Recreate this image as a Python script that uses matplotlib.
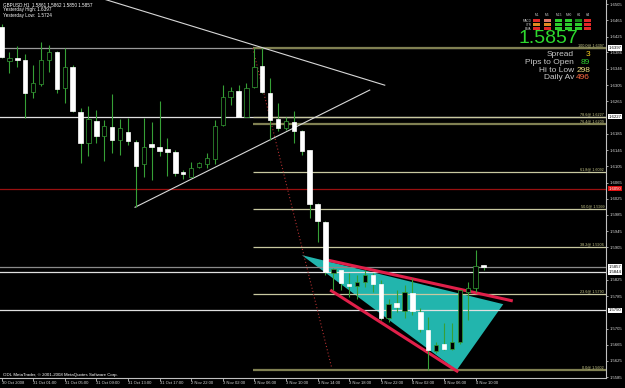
import matplotlib
matplotlib.use("Agg")
import matplotlib.pyplot as plt
from matplotlib.patches import Polygon, Rectangle

W, H = 625, 388

# GBPUSD H1 candles, 30 Oct 21:00 .. 4 Nov 11:00
opens = [1.6448, 1.6365, 1.6371, 1.6367, 1.6287, 1.6307, 1.6367, 1.6386, 1.6297, 1.6349,
         1.6238, 1.6162, 1.6217, 1.6180, 1.6201, 1.6171, 1.6190, 1.6166, 1.6111, 1.6159,
         1.6153, 1.6148, 1.6141, 1.6092, 1.6079, 1.6104, 1.6110, 1.6122, 1.6207, 1.6277,
         1.6291, 1.6227, 1.6301, 1.6352, 1.6286, 1.6222, 1.6199, 1.6215, 1.6192, 1.6145,
         1.6011, 1.5968, 1.5843, 1.5849, 1.5816, 1.5810, 1.5819, 1.5838, 1.5815, 1.5730,
         1.5767, 1.5749, 1.5793, 1.5746, 1.5701, 1.5649, 1.5668, 1.5654, 1.5671, 1.5796,
         1.5804, 1.5861]
highs = [1.6456, 1.6386, 1.6402, 1.6383, 1.6355, 1.6412, 1.6404, 1.6390, 1.6396, 1.6355,
         1.6248, 1.6254, 1.6245, 1.6219, 1.6283, 1.6221, 1.6223, 1.6171, 1.6225, 1.6215,
         1.6266, 1.6174, 1.6145, 1.6096, 1.6116, 1.6116, 1.6137, 1.6219, 1.6305, 1.6301,
         1.6305, 1.6310, 1.6396, 1.6397, 1.6322, 1.6260, 1.6227, 1.6241, 1.6194, 1.6145,
         1.6014, 1.5970, 1.5853, 1.5849, 1.5841, 1.5837, 1.5849, 1.5841, 1.5824, 1.5779,
         1.5800, 1.5812, 1.5829, 1.5755, 1.5734, 1.5672, 1.5718, 1.5718, 1.5801, 1.5820,
         1.5898, 1.5862]
lows = [1.6372, 1.6334, 1.6350, 1.6223, 1.6273, 1.6304, 1.6338, 1.6285, 1.6262, 1.6240,
        1.6113, 1.6130, 1.6162, 1.6118, 1.6137, 1.6134, 1.6157, 1.6004, 1.6079, 1.6071,
        1.6130, 1.6082, 1.6081, 1.6073, 1.6079, 1.6102, 1.6100, 1.6110, 1.6204, 1.6256,
        1.6226, 1.6226, 1.6297, 1.6286, 1.6170, 1.6192, 1.6194, 1.6163, 1.6133, 1.5977,
        1.5919, 1.5837, 1.5800, 1.5800, 1.5783, 1.5779, 1.5808, 1.5796, 1.5726, 1.5721,
        1.5746, 1.5732, 1.5738, 1.5697, 1.5602, 1.5644, 1.5652, 1.5652, 1.5668, 1.5726,
        1.5796, 1.5850]
closes = [1.6374, 1.6371, 1.6366, 1.6286, 1.6310, 1.6367, 1.6387, 1.6296, 1.6349, 1.6241,
          1.6163, 1.6222, 1.6180, 1.6204, 1.6171, 1.6199, 1.6168, 1.6106, 1.6152, 1.6153,
          1.6143, 1.6141, 1.6089, 1.6085, 1.6102, 1.6112, 1.6125, 1.6205, 1.6277, 1.6291,
          1.6227, 1.6299, 1.6349, 1.6289, 1.6219, 1.6199, 1.6217, 1.6193, 1.6143, 1.6012,
          1.5970, 1.5845, 1.5851, 1.5818, 1.5810, 1.5820, 1.5838, 1.5814, 1.5730, 1.5765,
          1.5757, 1.5796, 1.5749, 1.5705, 1.5652, 1.5664, 1.5654, 1.5671, 1.5800, 1.5805,
          1.5860, 1.5857]

time_ticks = [0, 4, 8, 12, 16, 20, 24, 28, 32, 36, 40, 44, 48, 52, 56, 60]
time_labels = ["30 Oct 2008", "31 Oct 01:00", "31 Oct 05:00", "31 Oct 09:00",
               "31 Oct 13:00", "31 Oct 17:00", "2 Nov 22:00", "3 Nov 02:00",
               "3 Nov 06:00", "3 Nov 10:00", "3 Nov 14:00", "3 Nov 18:00",
               "3 Nov 22:00", "4 Nov 02:00", "4 Nov 06:00", "4 Nov 10:00"]
price_ticks = [1.6505, 1.6465, 1.6425, 1.6386, 1.6346, 1.6305, 1.6265, 1.6185, 1.6145,
               1.6105, 1.6065, 1.6025, 1.5985, 1.5945, 1.5905, 1.5825, 1.5785, 1.5705,
               1.5665, 1.5625, 1.5585]

# horizontal lines: price, colour, boxed label colours
hlines = [1.6397, 1.6227, 1.6050, 1.5857, 1.5844, 1.5750]
hline_colors = ["#9a9a9a", "#e0e0e0", "#9a1010", "#8a8a8a", "#e0e0e0", "#e0e0e0"]
box_faces = ["white", "white", "#e01010", "white", "white", "white"]
box_texts = ["black", "black", "white", "black", "black", "black"]

fib_levels = ["0.0", "23.6", "38.2", "50.0", "61.8", "76.4", "78.6", "100.0"]
fib_prices = [1.5602, 1.5790, 1.5906, 1.5999, 1.6092, 1.6209, 1.6227, 1.6397]
fib_dark = [True, False, False, False, False, True, False, True]
fib_start = 31.8
fib_base_x = [31.8, 41.8]
fib_base_y = [1.6396, 1.5607]

resist_x, resist_y = [13.0, 48.5], [1.6517, 1.6305]
support_x, support_y = [16.9, 46.6], [1.6004, 1.6293]
tri_x = [38.0, 57.6, 63.5]
tri_y = [1.5886, 1.5602, 1.5765]
upper_x, upper_y = [41.2, 64.7], [1.5874, 1.5773]
lower_x, lower_y = [41.6, 57.8], [1.5800, 1.5598]

sig_cols = ["M1", "M5", "M15", "M30", "H1", "H4"]
sig_rows = ["MACD", "STR", "EMA"]
sig_colors = [["#e02828", "#e07868", "#2ccc2c", "#2ccc2c", "#168a16", "#e02828"],
              ["#e08a20", "#e08a20", "#2ccc2c", "#2ccc2c", "#2ccc2c", "#e02828"],
              ["#e02828", "#e02828", "#2ccc2c", "#2ccc2c", "#2ccc2c", "#e02828"]]
info_names = ["Spread", "Pips to Open", "Hi to Low", "Daily Av"]
info_values = ["3", "89", "298", "496"]
info_colors = ["#ffd020", "#30d030", "#f0e080", "#ff6a40"]

fig = plt.figure(figsize=(W / 100, H / 100), dpi=100, facecolor="black")
ax = fig.add_axes([0, 10 / H, 606 / W, 378 / H], facecolor="black")
ax.set_xlim(-0.19, 76.5)
ax.set_ylim(1.5583, 1.6515)

# pattern triangle under everything
ax.add_patch(Polygon(list(zip(tri_x, tri_y)), closed=True, facecolor="#22b5ad",
                     edgecolor="none", zorder=1))

for p, c in zip(hlines, hline_colors):
    ax.axhline(p, color=c, lw=0.9, zorder=2)

for lvl, p, dark in zip(fib_levels, fib_prices, fib_dark):
    col = "#808052" if dark else "#c8c8a0"
    ax.hlines(p, fib_start, 76.5, color=col, lw=1.6 if dark else 0.9, zorder=2)
    ax.text(0.997, p + 0.00012, f"{lvl}@ {p:.4f}", transform=ax.get_yaxis_transform(),
            ha="right", va="bottom", fontsize=2.7, color="#d0d090", zorder=6,
            family="Liberation Sans")

ax.plot(fib_base_x, fib_base_y, color="#b03030", lw=0.8, ls=(0, (1, 2)), zorder=3)
ax.plot(resist_x, resist_y, color="#d8d8d8", lw=0.8, zorder=3)
ax.plot(support_x, support_y, color="#d8d8d8", lw=0.8, zorder=3)
ax.plot(upper_x, upper_y, color="#e0204a", lw=2.2, solid_capstyle="butt", zorder=3)
ax.plot(lower_x, lower_y, color="#e0204a", lw=2.2, solid_capstyle="butt", zorder=3)

# candles: white = down, black with green edge = up
idx = list(range(len(opens)))
wick = "#36a036"
ax.vlines(idx, lows, highs, color=wick, lw=0.8, zorder=4)
bottoms = [min(o, c) for o, c in zip(opens, closes)]
heights = [max(abs(c - o), 0.00008) for o, c in zip(opens, closes)]
faces = ["white" if c < o else "black" for o, c in zip(opens, closes)]
edges = ["white" if c < o else wick for o, c in zip(opens, closes)]
ax.bar(idx, heights, bottom=bottoms, width=0.56, color=faces, edgecolor=edges,
       linewidth=0.5, zorder=5)

# axes
for s in ["top", "left"]:
    ax.spines[s].set_visible(False)
for s in ["right", "bottom"]:
    ax.spines[s].set_color("#c0c0c0")
    ax.spines[s].set_linewidth(0.8)
ax.yaxis.tick_right()
ax.set_yticks(price_ticks, labels=[f"{p:.4f}" for p in price_ticks])
ax.set_xticks(time_ticks, labels=time_labels)
for lab in ax.get_xticklabels():
    lab.set_ha("left")
ax.tick_params(axis="x", colors="#c0c0c0", labelcolor="#d8d8d8", labelsize=3.0,
               length=2.2, width=0.6, pad=0)
ax.tick_params(axis="y", colors="#c0c0c0", labelcolor="#d8d8d8", labelsize=3.1,
               length=1.6, width=0.6, pad=1.2)
for lab in ax.get_xticklabels() + ax.get_yticklabels():
    lab.set_family("Liberation Sans")

for p, fc, tc in zip(hlines, box_faces, box_texts):
    ax.text(1.004, p, f"{p:.4f}", transform=ax.get_yaxis_transform(), ha="left",
            va="center", fontsize=3.1, color=tc, family="Liberation Sans",
            bbox=dict(facecolor=fc, edgecolor="none", pad=0.5), clip_on=False)


def fx(px):
    return px / W


def fy(py):
    return 1 - py / H


hdr = [f"GBPUSD,H1  {opens[-1]:.4f} {highs[-1]:.4f} {lows[-1]:.4f} {closes[-1]:.4f}",
       "Yesterday High: 1.6397", "Yesterday Low:  1.5724"]
for i, t in enumerate(hdr):
    fig.text(fx(3), fy(5 + 5 * i), t, fontsize=3.3, color="white", va="center",
             family="Liberation Sans")
fig.text(fx(3), fy(375), "ODL MetaTrader, \u00a9 2001-2008 MetaQuotes Software Corp.",
         fontsize=3.2, color="white", va="center", family="Liberation Sans")

# signal grid
col_x = [533.3, 544, 555, 565.3, 575.3, 584.3]
for j, name in enumerate(sig_cols):
    fig.text(fx(col_x[j] + 3.5), fy(15), name, fontsize=2.3, color="#d0d0d0",
             ha="center", va="center", family="Liberation Sans")
for i, name in enumerate(sig_rows):
    fig.text(fx(531.5), fy(20.8 + 4 * i), name, fontsize=2.2, color="#d0d0d0",
             ha="right", va="center", family="Liberation Sans")
    for j in range(len(sig_cols)):
        fig.add_artist(Rectangle((fx(col_x[j]), fy(22.3 + 4 * i)), 7 / W, 3 / H,
                                 transform=fig.transFigure, facecolor=sig_colors[i][j],
                                 edgecolor="none"))

fig.text(fx(578), fy(38.5), f"{closes[-1]:.4f}", fontsize=14, color="#2ed82e",
         ha="right", va="center", family="Liberation Sans")
for i, (n, v, c) in enumerate(zip(info_names, info_values, info_colors)):
    fig.text(fx(574), fy(55 + 7.5 * i), n, fontsize=6, color="#c8c8c8", ha="right",
             va="center", family="Liberation Sans")
    fig.text(fx(590), fy(55 + 7.5 * i), v, fontsize=6, color=c, ha="right",
             va="center", family="Liberation Sans")

fig.savefig("out.png", dpi=100, facecolor="black")
